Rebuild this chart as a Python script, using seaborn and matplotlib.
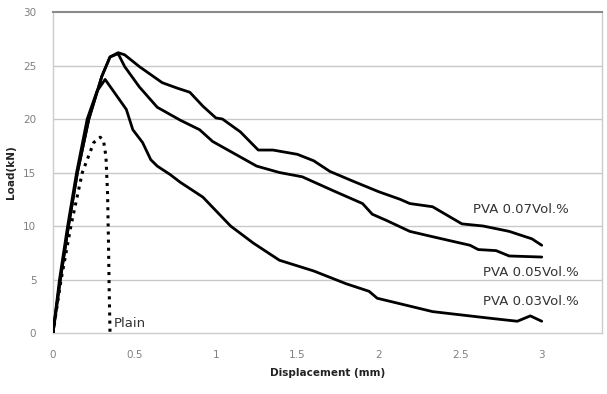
import matplotlib
matplotlib.use("Agg")
import matplotlib.pyplot as plt
import seaborn as sns
import pandas as pd

# ---- data ----
x_07 = [0, 0.045, 0.095, 0.15, 0.22, 0.30, 0.35, 0.40, 0.44, 0.53, 0.67, 0.76, 0.84, 0.92,
        1.0, 1.04, 1.15, 1.26, 1.35, 1.50, 1.60, 1.70, 1.84, 2.0, 2.13, 2.19, 2.33, 2.51,
        2.64, 2.80, 2.94, 3.0]
y_07 = [0, 5, 10, 15, 20, 24, 25.8, 26.2, 26.0, 24.9, 23.4, 22.9, 22.5, 21.2,
        20.1, 20.0, 18.8, 17.1, 17.1, 16.7, 16.1, 15.1, 14.2, 13.2, 12.5, 12.1, 11.8, 10.2,
        10.0, 9.5, 8.8, 8.2]

x_05 = [0, 0.045, 0.095, 0.15, 0.22, 0.30, 0.35, 0.40, 0.44, 0.53, 0.64, 0.78, 0.90, 0.98,
        1.25, 1.39, 1.53, 1.72, 1.90, 1.96, 2.05, 2.19, 2.33, 2.56, 2.61, 2.72, 2.80, 3.0]
y_05 = [0, 5, 10, 15, 20, 24, 25.8, 26.1, 24.9, 23.0, 21.1, 19.9, 19.0, 17.9,
        15.6, 15.0, 14.6, 13.3, 12.1, 11.1, 10.5, 9.5, 9.0, 8.2, 7.8, 7.7, 7.2, 7.1]

x_03 = [0, 0.04, 0.09, 0.145, 0.21, 0.27, 0.32, 0.45, 0.49, 0.55, 0.60, 0.64, 0.72, 0.78,
        0.92, 1.09, 1.23, 1.39, 1.60, 1.80, 1.94, 1.99, 2.33, 2.5, 2.7, 2.85, 2.93, 3.0]
y_03 = [0, 5, 10, 15, 20, 22.6, 23.7, 20.9, 19.0, 17.8, 16.2, 15.6, 14.8, 14.1,
        12.7, 10.0, 8.4, 6.8, 5.8, 4.6, 3.9, 3.25, 2.0, 1.7, 1.35, 1.1, 1.6, 1.1]

x_plain = [0, 0.05, 0.11, 0.18, 0.25, 0.29, 0.31, 0.325, 0.335, 0.34, 0.345, 0.35]
y_plain = [0, 5, 10, 15, 17.8, 18.3, 18.0, 16.5, 13, 9, 4, 0]

labels = ["PVA 0.07Vol.%", "PVA 0.05Vol.%", "PVA 0.03Vol.%", "Plain"]
y_ticks = [0, 5, 10, 15, 20, 25, 30]
x_ticks = [0, 0.5, 1, 1.5, 2, 2.5, 3]
x_tick_labels = ["0", "0.5", "1", "1.5", "2", "2.5", "3"]

# ---- plot ----
sns.set_theme(style="white")
plt.rcParams['font.family'] = ['DejaVu Sans']

fig = plt.figure(figsize=(6.07, 3.94), dpi=100)
ax = fig.add_axes([0.0873, 0.1548, 0.9045, 0.8147])

series = [(x_07, y_07, "-"), (x_05, y_05, "-"), (x_03, y_03, "-"), (x_plain, y_plain, ":")]
for (xs, ys, ls), lab in zip(series, labels):
    df = pd.DataFrame({"x": xs, "y": ys})
    sns.lineplot(data=df, x="x", y="y", ax=ax, sort=False, estimator=None,
                 color="black", linewidth=2.0 if ls == "-" else 2.2, linestyle=ls,
                 zorder=3)

ax.set_xlim(0, 3.37)
ax.set_ylim(0, 30)
ax.set_yticks(y_ticks)
ax.set_xticks(x_ticks)
ax.set_xticklabels(x_tick_labels)
ax.tick_params(axis="both", labelsize=7.5, colors="#808080", length=0)
ax.tick_params(axis="x", pad=12)
ax.tick_params(axis="y", pad=12)

for yv in y_ticks[1:-1]:
    ax.axhline(yv, color="#c8c8c8", linewidth=1.0, zorder=1)

for side in ["left", "right", "bottom"]:
    ax.spines[side].set_color("#cccccc")
    ax.spines[side].set_linewidth(1.0)
ax.spines["top"].set_color("#8a8a8a")
ax.spines["top"].set_linewidth(1.5)

ax.set_xlabel("Displacement (mm)", fontsize=7.5, fontweight="bold", color="#222222", labelpad=6)
ax.set_ylabel("Load(kN)", fontsize=7.5, fontweight="bold", color="#222222")
ax.yaxis.set_label_coords(-0.068, 0.5)

txt_kw = dict(fontsize=9.5, color="#333333", zorder=4)
ax.text(2.58, 11.5, labels[0], va="center", ha="left", **txt_kw)
ax.text(2.64, 5.7, labels[1], va="center", ha="left", **txt_kw)
ax.text(2.64, 2.9, labels[2], va="center", ha="left", **txt_kw)
ax.text(0.375, 0.9, labels[3], va="center", ha="left", **txt_kw)

fig.savefig("out.png", dpi=100)
